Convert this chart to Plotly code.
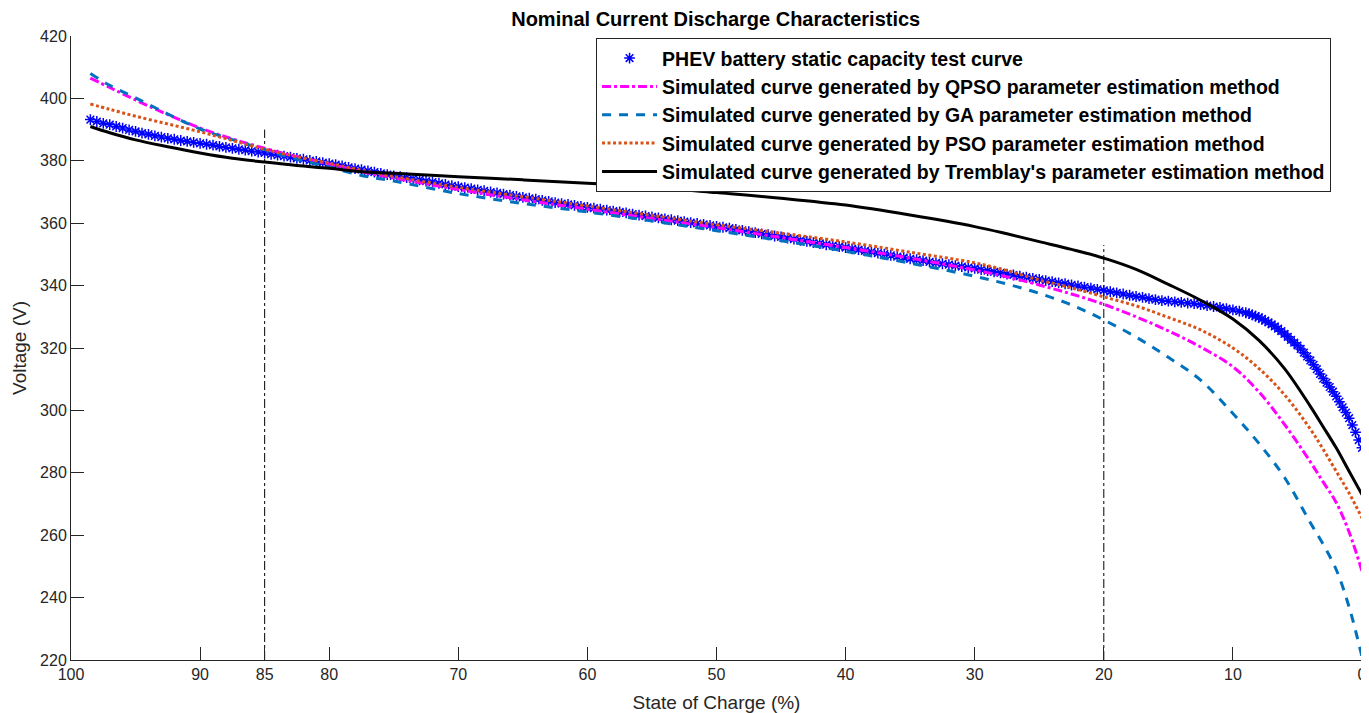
import plotly.graph_objects as go

# ---------------- data ----------------
soc_sim = [98.5, 97, 95, 92.5, 90, 87.5, 85, 82.5, 80, 77.5, 75, 70, 65, 60, 55, 50, 45, 40,
           35, 30, 27.5, 25, 22.5, 20, 17.5, 15, 12.5, 10, 8, 6, 4, 3, 2, 1, 0]

v_qpso = [406.5, 403.5, 399.5, 394.8, 390.5, 387.0, 384.0, 381.3, 379.0, 376.5, 374.5, 370.8,
          367.5, 364.5, 361.5, 358.6, 355.4, 352.2, 348.8, 345.0, 342.8, 340.2, 337.3, 334.0,
          330.0, 325.5, 320.3, 314.0, 306.0, 295.5, 283.5, 277.0, 270.5, 261.0, 248.5]

v_ga = [408.0, 404.2, 400.2, 395.0, 390.2, 386.8, 383.6, 380.5, 378.0, 375.3, 373.5, 369.5,
        366.3, 363.6, 360.7, 357.6, 354.4, 351.0, 347.2, 343.0, 340.5, 337.5, 333.8, 329.0,
        323.5, 317.0, 309.7, 299.0, 289.5, 278.5, 264.0, 257.0, 249.0, 237.0, 221.0]

v_pso = [398.2, 396.5, 394.3, 391.8, 389.3, 386.5, 383.7, 381.3, 379.2, 377.0, 375.0, 371.5,
         368.5, 365.5, 362.5, 359.5, 356.8, 354.0, 350.7, 347.3, 344.8, 341.8, 339.3, 336.4,
         333.5, 329.8, 325.8, 320.0, 313.5, 305.0, 294.0, 287.5, 280.5, 273.5, 265.5]

v_tremblay = [391.0, 389.0, 386.7, 384.5, 382.5, 380.8, 379.6, 378.5, 377.6, 376.5, 376.0, 374.9,
              373.9, 372.8, 371.5, 369.8, 368.0, 365.8, 362.6, 358.9, 356.6, 354.1, 351.6, 348.8,
              345.2, 340.4, 335.3, 329.3, 322.5, 313.4, 301.3, 294.7, 288.0, 280.5, 273.0]

soc_test = [98.5, 98, 97.5, 97, 96.5, 96, 95.5, 95, 94.5, 94, 93.5, 93, 92.5, 92, 91.5, 91,
            90.5, 90, 89.5, 89, 88.5, 88, 87.5, 87, 86.5, 86, 85.5, 85, 84.5, 84, 83.5, 83,
            82.5, 82, 81.5, 81, 80.5, 80, 79.5, 79, 78.5, 78, 77.5, 77, 76.5, 76, 75.5, 75,
            74.5, 74, 73.5, 73, 72.5, 72, 71.5, 71, 70.5, 70, 69.5, 69, 68.5, 68, 67.5, 67,
            66.5, 66, 65.5, 65, 64.5, 64, 63.5, 63, 62.5, 62, 61.5, 61, 60.5, 60, 59.5, 59,
            58.5, 58, 57.5, 57, 56.5, 56, 55.5, 55, 54.5, 54, 53.5, 53, 52.5, 52, 51.5, 51,
            50.5, 50, 49.5, 49, 48.5, 48, 47.5, 47, 46.5, 46, 45.5, 45, 44.5, 44, 43.5, 43,
            42.5, 42, 41.5, 41, 40.5, 40, 39.5, 39, 38.5, 38, 37.5, 37, 36.5, 36, 35.5, 35,
            34.5, 34, 33.5, 33, 32.5, 32, 31.5, 31, 30.5, 30, 29.5, 29, 28.5, 28, 27.5, 27,
            26.5, 26, 25.5, 25, 24.5, 24, 23.5, 23, 22.5, 22, 21.5, 21, 20.5, 20, 19.5, 19,
            18.5, 18, 17.5, 17, 16.5, 16, 15.5, 15, 14.5, 14, 13.5, 13, 12.5, 12, 11.5, 11,
            10.5, 10, 9.5, 9, 8.75, 8.5, 8.25, 8, 7.75, 7.5, 7.25, 7, 6.75, 6.5, 6.25, 6,
            5.75, 5.5, 5.25, 5, 4.75, 4.5, 4.25, 4, 3.75, 3.5, 3.25, 3, 2.75, 2.5, 2.25, 2,
            1.75, 1.5, 1.25, 1, 0.75, 0.5, 0.25, 0]

v_test = [393.2, 392.6, 392.0, 391.6, 391.0, 390.5, 389.9, 389.4, 388.9, 388.5, 388.0, 387.6,
          387.2, 386.9, 386.5, 386.2, 385.9, 385.6, 385.3, 385.0, 384.6, 384.3, 384.0, 383.7,
          383.4, 383.1, 382.8, 382.5, 382.1, 381.8, 381.5, 381.2, 380.8, 380.5, 380.1, 379.8,
          379.4, 379.1, 378.8, 378.4, 377.9, 377.5, 377.2, 376.8, 376.4, 376.0, 375.6, 375.2,
          374.9, 374.6, 374.2, 373.9, 373.5, 373.2, 372.8, 372.4, 372.0, 371.7, 371.4, 371.1,
          370.7, 370.4, 370.0, 369.7, 369.3, 369.0, 368.6, 368.3, 368.0, 367.7, 367.3, 367.0,
          366.6, 366.3, 366.0, 365.7, 365.4, 365.1, 364.8, 364.5, 364.2, 363.9, 363.6, 363.3,
          362.9, 362.6, 362.3, 362.0, 361.7, 361.4, 361.1, 360.8, 360.5, 360.2, 359.9, 359.6,
          359.3, 359.0, 358.7, 358.4, 358.0, 357.7, 357.3, 357.0, 356.6, 356.3, 355.9, 355.6,
          355.2, 354.9, 354.5, 354.2, 353.8, 353.5, 353.1, 352.8, 352.5, 352.2, 351.8, 351.5,
          351.1, 350.8, 350.4, 350.1, 349.7, 349.3, 349.0, 348.6, 348.3, 348.0, 347.6, 347.3,
          347.0, 346.7, 346.4, 346.1, 345.8, 345.5, 345.1, 344.8, 344.4, 344.1, 343.7, 343.4,
          343.0, 342.7, 342.3, 342.0, 341.6, 341.3, 340.9, 340.6, 340.2, 339.9, 339.5, 339.2,
          338.8, 338.5, 338.1, 337.7, 337.3, 336.9, 336.5, 336.2, 335.8, 335.5, 335.2, 335.0,
          334.8, 334.6, 334.4, 334.2, 333.9, 333.6, 333.3, 333.0, 332.6, 332.2, 331.8, 331.3,
          331.0, 330.6, 330.2, 329.8, 329.3, 328.8, 328.2, 327.6, 326.9, 326.2, 325.4, 324.5,
          323.6, 322.6, 321.7, 320.8, 319.7, 318.5, 317.3, 316.0, 314.6, 313.2, 311.7, 310.2,
          308.9, 307.5, 306.0, 304.5, 302.8, 301.0, 299.3, 297.5, 295.3, 293.0, 290.5, 288.0]

vline_soc = [85, 20]
vline_top = [390, 353]

x_ticks = [100, 90, 85, 80, 70, 60, 50, 40, 30, 20, 10, 0]
y_ticks = [220, 240, 260, 280, 300, 320, 340, 360, 380, 400, 420]

names = ["PHEV battery static capacity test curve",
         "Simulated curve generated by QPSO parameter estimation method",
         "Simulated curve generated by GA parameter estimation method",
         "Simulated curve generated by PSO parameter estimation method",
         "Simulated curve generated by Tremblay's parameter estimation method"]

# ---------------- figure ----------------
fig = go.Figure()

for s, top in zip(vline_soc, vline_top):
    fig.add_trace(go.Scatter(x=[s, s], y=[220, top], mode="lines", showlegend=False,
                             hoverinfo="skip",
                             line=dict(color="black", width=1, dash="dashdot")))

fig.add_trace(go.Scatter(x=soc_test, y=v_test, mode="markers", name=names[0],
                         marker=dict(symbol="asterisk-open", size=9, color="#0000FF",
                                     line=dict(color="#0000FF", width=1.5))))
fig.add_trace(go.Scatter(x=soc_sim, y=v_qpso, mode="lines", name=names[1],
                         line=dict(color="#FF00FF", width=3, dash="dashdot", shape="spline")))
fig.add_trace(go.Scatter(x=soc_sim, y=v_ga, mode="lines", name=names[2],
                         line=dict(color="#0072BD", width=3, dash="9px,8px", shape="spline")))
fig.add_trace(go.Scatter(x=soc_sim, y=v_pso, mode="lines", name=names[3],
                         line=dict(color="#D95319", width=3, dash="3px,2.5px", shape="spline")))
fig.add_trace(go.Scatter(x=soc_sim, y=v_tremblay, mode="lines", name=names[4],
                         line=dict(color="black", width=3, shape="spline")))

axis_font = dict(family="Arial", size=16, color="#262626")
fig.update_layout(
    width=1361, height=705,
    margin=dict(l=63, r=7, t=28, b=53),
    paper_bgcolor="white", plot_bgcolor="white",
    title=dict(text="<b>Nominal Current Discharge Characteristics</b>",
               x=0.520, xanchor="center", y=0.984, yanchor="middle",
               font=dict(family="Arial", size=20, color="black")),
    xaxis=dict(range=[100, 0], tickvals=x_ticks, ticktext=[str(t) for t in x_ticks],
               ticks="inside", ticklen=13, tickcolor="#262626", tickwidth=1,
               showline=True, linecolor="#262626", linewidth=1, mirror=False,
               showgrid=False, zeroline=False, tickfont=axis_font,
               automargin=False, ticklabeloverflow="allow",
               title=dict(text="State of Charge (%)", standoff=14,
                          font=dict(family="Arial", size=19, color="#262626"))),
    yaxis=dict(range=[220, 420], tickvals=y_ticks,
               ticks="inside", ticklen=13, tickcolor="#262626", tickwidth=1,
               showline=True, linecolor="#262626", linewidth=1, mirror=False,
               showgrid=False, zeroline=False, tickfont=axis_font,
               automargin=False, ticklabeloverflow="allow",
               title=dict(text="Voltage (V)", standoff=8,
                          font=dict(family="Arial", size=19, color="#262626"))),
    legend=dict(x=0.4067, y=0.997, xanchor="left", yanchor="top",
                bgcolor="white", bordercolor="#262626", borderwidth=1,
                font=dict(family="Arial", size=19.5, color="black", weight="bold"),
                itemwidth=55, tracegroupgap=0),
    showlegend=True,
)

fig.write_html("out.html")
